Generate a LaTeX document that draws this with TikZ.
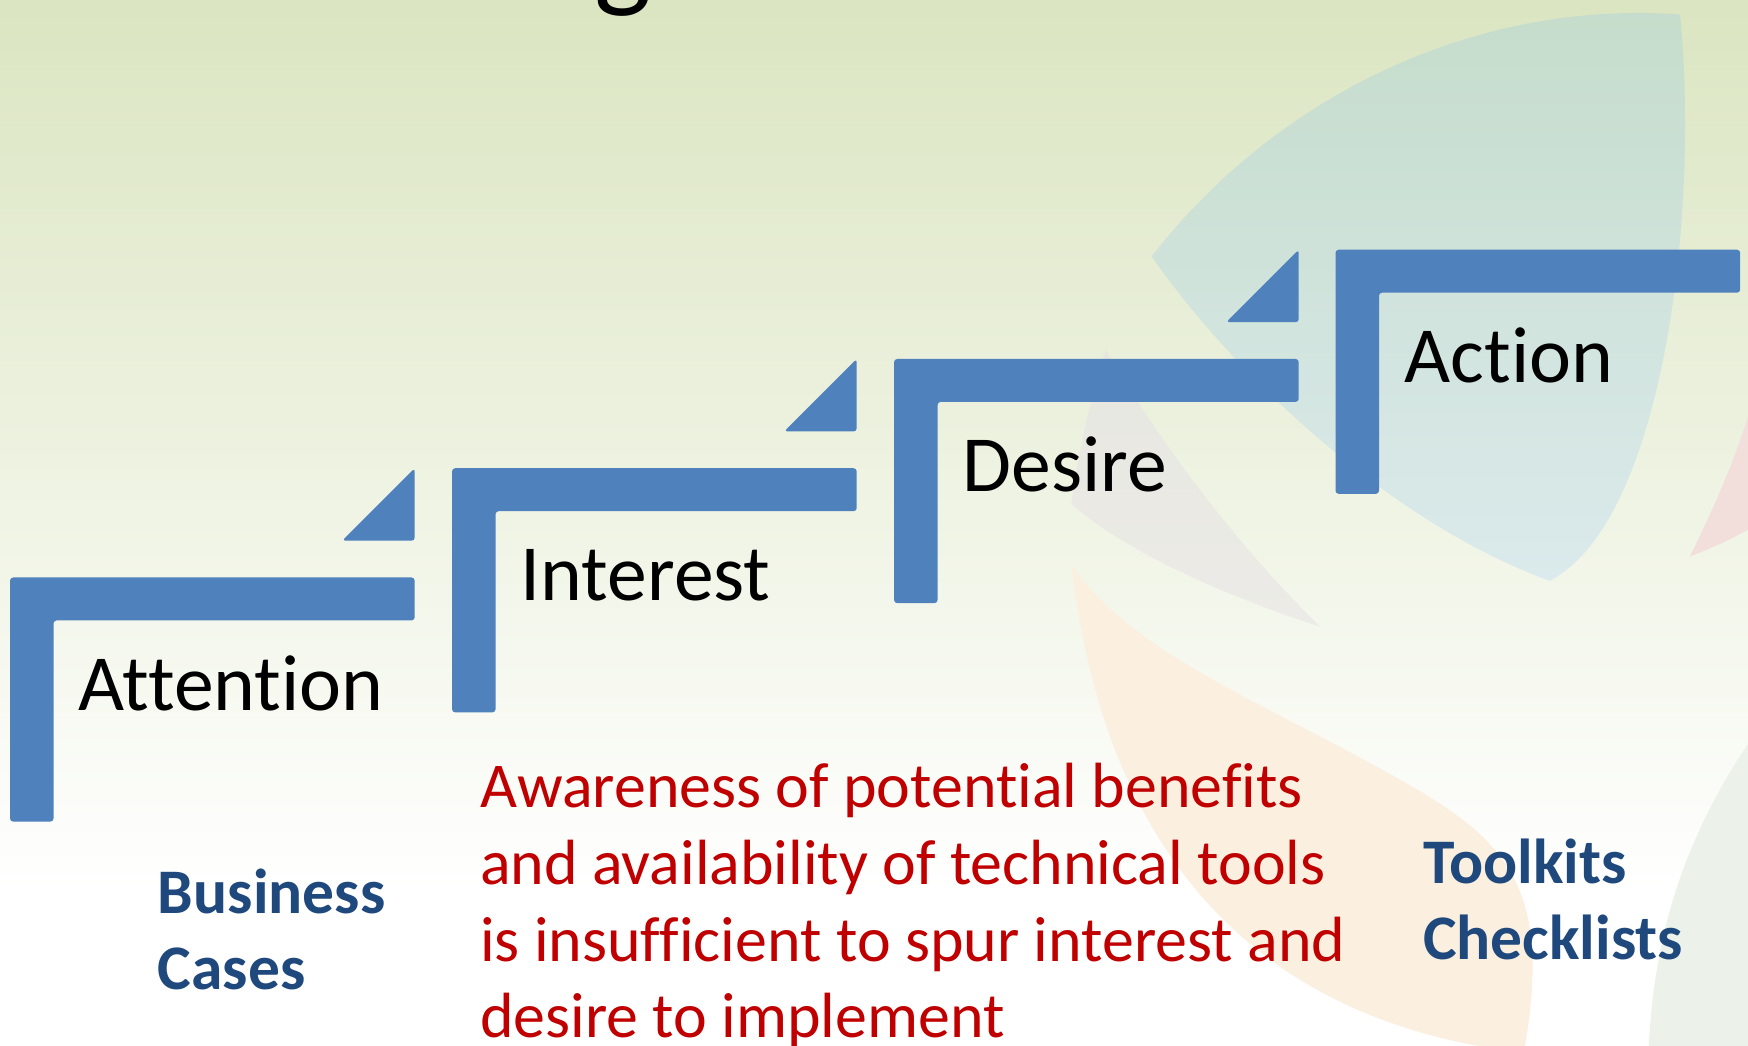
\documentclass[tikz,border=0pt]{standalone}
\usepackage{fontspec}
\setmainfont{Carlito}[Ligatures=NoCommon]
\definecolor{stepblue}{RGB}{79,129,189}
\definecolor{txtred}{RGB}{192,0,0}
\definecolor{txtblue}{RGB}{31,73,125}
\definecolor{bgtop}{RGB}{219,229,193}
\definecolor{bgmid}{RGB}{238,242,225}
\definecolor{leafA}{RGB}{197,220,203}
\definecolor{leafB}{RGB}{219,234,236}
\definecolor{greyA}{RGB}{231,231,224}
\definecolor{greyB}{RGB}{236,235,231}
\definecolor{peach}{RGB}{251,240,224}
\definecolor{pinkleaf}{RGB}{242,222,218}
\definecolor{greenleaf}{RGB}{236,242,234}
\tikzset{
  stepshape/.style={fill=stepblue, draw=none, rounded corners=0.8pt},
  steplabel/.style={anchor=base west, inner sep=0pt, font=\fontsize{20.3}{24}\selectfont, text=black},
  redtext/.style={anchor=base west, inner sep=0pt, align=left, text=txtred, font=\fontsize{16.3}{19.6}\selectfont},
  bluetext/.style={anchor=base west, inner sep=0pt, align=left, text=txtblue, font=\fontsize{16.2}{19.4}\selectfont\bfseries},
}
\begin{document}
\begin{tikzpicture}[x=0.01cm, y=-0.01cm]
\useasboundingbox (0,0) rectangle (1568,938);
\begin{scope}
\clip (0,0) rectangle (1568,938);
% background gradient
\fill[white] (0,0) rectangle (1568,938);
\shade[top color=bgtop, middle color=bgmid, bottom color=white] (0,0) rectangle (1568,800);
% grey leaf
\shade[top color=greyA, bottom color=greyB]
  (992,314) .. controls (1030,380) and (1100,480) .. (1184,562)
  .. controls (1100,535) and (1010,495) .. (961,452)
  .. controls (968,400) and (980,350) .. (992,314) -- cycle;
% peach leaf
\fill[peach]
  (961,506) .. controls (1010,580) and (1120,625) .. (1230,685)
  .. controls (1340,745) and (1395,780) .. (1368,938)
  -- (1368,960) -- (1325,960) -- (1325,938)
  .. controls (1120,900) and (990,760) .. (961,506) -- cycle;
% blue-green leaf
\shade[top color=leafA, bottom color=leafB]
  (1033,230) .. controls (1150,80) and (1330,0) .. (1507,13)
  .. controls (1525,200) and (1490,470) .. (1390,521)
  .. controls (1250,470) and (1110,340) .. (1033,230) -- cycle;
% pink leaf
\fill[pinkleaf]
  (1568,374) .. controls (1550,430) and (1530,470) .. (1516,499)
  .. controls (1535,492) and (1552,484) .. (1568,475) -- cycle;
% light green leaf
\fill[greenleaf]
  (1568,667) .. controls (1520,740) and (1485,820) .. (1479,938)
  -- (1479,960) -- (1580,960) -- (1580,667) -- cycle;
% title remnant
\node[anchor=base west, inner sep=0pt, font=\fontsize{31}{36}\selectfont] (title) at (533,-4) {g};
\end{scope}

% stairs
\foreach \x/\y in {9/518, 405.5/420, 802/322, 1198/224}{
  \fill[stepshape] (\x,\y) -- ++(363,0) -- ++(0,38.5) -- ++(-324,0) -- ++(0,180.5) -- ++(-39,0) -- cycle;
}
\foreach \x/\y in {372/485, 768.5/387, 1165/289}{
  \fill[stepshape] (\x,\y) -- ++(-65,0) -- ++(65,-65) -- cycle;
}

% labels
\node[steplabel] (attention) at (70,637) {Attention};
\node[steplabel] (interest) at (466.5,539) {Interest};
\node[steplabel] (desire) at (863,441) {Desire};
\node[steplabel] (action) at (1259.5,343) {Action};

% multi-line nodes: base anchor is on the last line
\node[redtext] (note) at (430,931) {Awareness of potential benefits\\and availability of technical tools\\is insufficient to spur interest and\\desire to implement};
\node[bluetext] (business) at (141,888) {Business\\Cases};
\node[bluetext] (toolkits) at (1276,861) {Toolkits\\Checklists};
\end{tikzpicture}
\end{document}
